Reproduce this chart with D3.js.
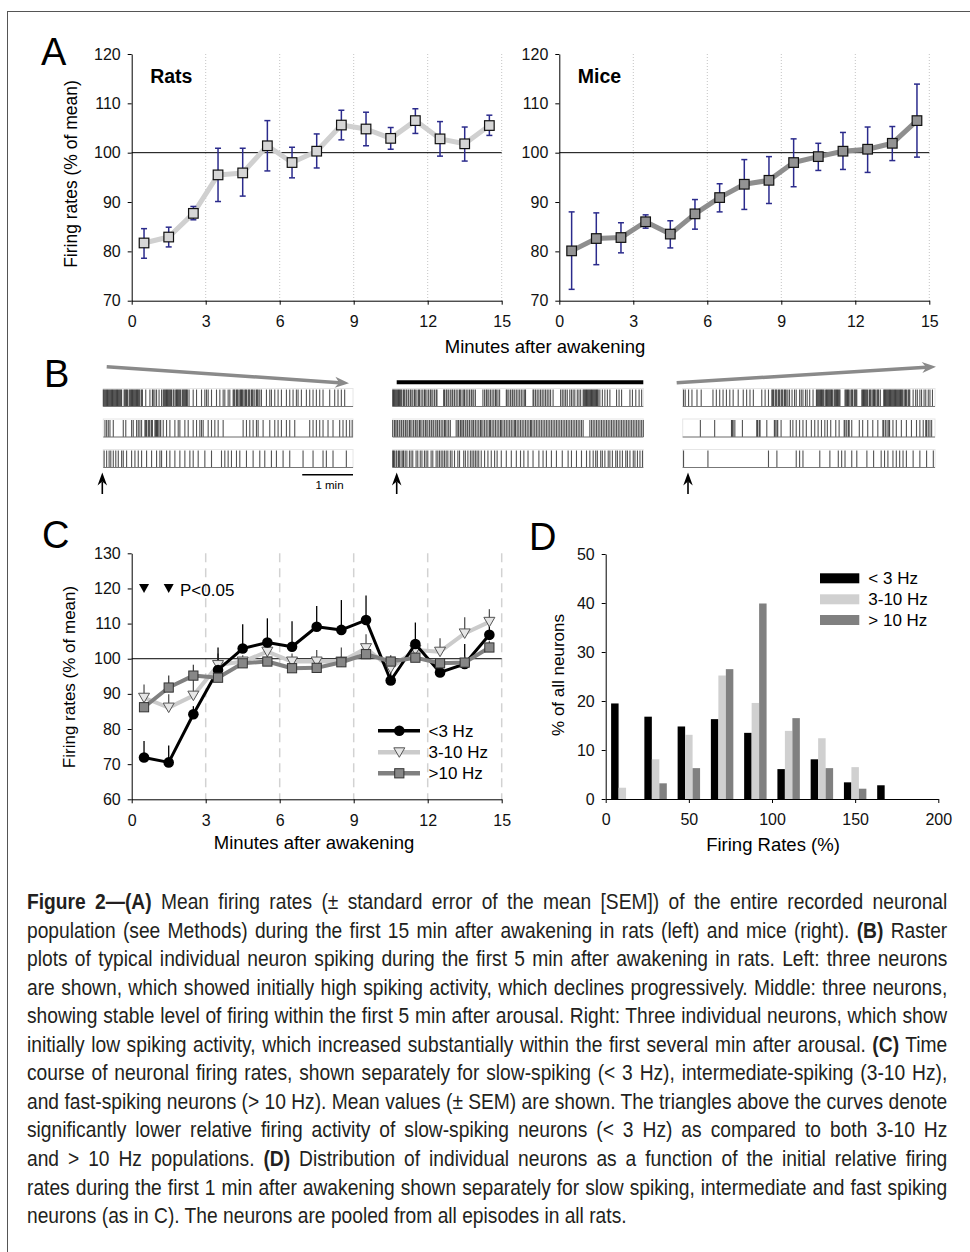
<!DOCTYPE html>
<html>
<head>
<meta charset="utf-8">
<script src="https://cdn.jsdelivr.net/npm/d3@7"></script>
<style>
  body { margin: 0; background: #fff; }
  svg { display: block; }
</style>
</head>
<body>
<svg id="fig" width="970" height="1252"></svg>
<script>
const FONT = '"Liberation Sans", Arial, Helvetica, sans-serif';

// ---------- data ----------
const minutes = [0.5, 1.5, 2.5, 3.5, 4.5, 5.5, 6.5, 7.5, 8.5, 9.5, 10.5, 11.5, 12.5, 13.5, 14.5];
const xTicks = [0, 3, 6, 9, 12, 15];

// Panel A - rats
const ratsMean = [81.7, 82.9, 87.7, 95.5, 95.9, 101.4, 98.0, 100.3, 105.6, 104.8, 102.9, 106.5, 102.8, 101.8, 105.5];
const ratsLow  = [78.6, 80.9, 86.4, 90.1, 91.2, 96.3, 94.9, 96.9, 102.6, 101.4, 100.7, 103.9, 99.3, 98.3, 103.5];
const ratsHigh = [84.6, 84.9, 89.1, 100.9, 100.9, 106.5, 101.1, 103.8, 108.6, 108.2, 105.1, 108.9, 106.3, 105.2, 107.6];
// Panel A - mice
const miceMean = [80.1, 82.6, 82.8, 86.0, 83.5, 87.6, 90.9, 93.6, 94.4, 98.0, 99.2, 100.3, 100.7, 101.9, 106.5];
const miceLow  = [72.3, 77.3, 79.7, 84.7, 80.7, 84.5, 88.0, 88.5, 89.7, 93.1, 96.4, 96.6, 96.0, 98.4, 99.1];
const miceHigh = [88.0, 87.8, 85.8, 87.4, 86.2, 90.5, 93.7, 98.6, 99.2, 102.8, 101.9, 104.1, 105.2, 105.3, 113.9];
const yTicksA = [70, 80, 90, 100, 110, 120];

// Panel B - spike times (s, within first 5 min)
const spikesL1 = [0,1,2,3,4,5,6,7,8,9,10,11,12,13,14,15,16,17,18,19,20,21,22,25,26,27,28,29,31,32,33,34,35,36,37,38,39,40,41,42,43,44,
  46,47,51,56,59,60,62,64,67,70,72,73,74,75,76,77,78,79,80,81,82,84,85,87,88,89,90,91,92,93,95,96,97,98,99,100,101,103,
  108,112,118,122,124,126,130,136,140,144,146,150,152,156,157,158,160,161,162,164,165,166,167,168,170,171,172,174,175,176,
  178,179,180,182,184,185,186,188,190,196,200,202,206,210,214,220,224,228,232,234,238,244,248,252,256,260,264,272,278,282,286,290];
const spikesL2 = [2,4,6,8,12,24,27,34,36,40,42,44,46,50,51,52,54,55,56,58,59,62,63,64,65,66,68,69,72,76,80,86,90,92,98,102,
  108,112,116,118,120,126,130,134,138,144,168,172,176,180,184,186,192,200,206,210,214,220,224,230,248,252,256,260,264,270,
  276,284,288,292,296,299];
const spikesL3 = [1,4,7,9,12,15,18,22,24,28,34,38,42,46,52,58,64,68,70,76,80,86,92,98,104,108,114,122,130,142,146,150,154,
  160,164,172,180,188,194,202,208,216,224,240,252,264,268,276,292];
const spikesM1 = [0,1,2,3,4,5,6,7,8,9,10,11,13,14,16,17,19,21,22,24,26,27,29,31,32,34,36,38,39,41,43,45,46,48,50,52,53,
  61,62,64,65,67,69,71,72,74,76,78,80,81,83,85,86,88,90,92,94,95,97,99,108,110,112,113,115,117,119,121,123,124,126,128,
  136,137,139,141,143,144,146,148,150,152,154,156,158,159,168,169,171,173,175,177,179,181,183,185,187,189,192,201,203,
  205,207,209,212,214,216,218,221,223,225,228,229,230,231,232,233,234,235,236,237,238,239,240,241,242,243,244,245,246,
  248,251,254,257,260,268,271,274,284,287,291,295,298];
const spikesM2 = [0,2,3,5,6,8,10,11,13,15,16,18,20,21,23,25,27,28,30,32,33,35,37,39,40,42,44,46,47,49,51,53,54,56,58,60,
  62,63,65,67,69,76,78,79,81,82,84,85,87,89,90,92,94,96,97,99,101,103,105,106,108,110,112,114,116,117,119,121,123,125,
  127,129,130,132,134,136,138,140,142,144,146,147,149,151,153,155,157,159,161,163,165,166,168,170,172,174,176,178,180,
  182,184,186,188,190,192,194,196,198,200,202,204,206,208,210,212,214,216,218,220,222,224,226,228,236,238,240,242,244,
  246,248,250,252,254,256,258,260,262,264,266,268,270,272,274,276,278,280,282,284,286,288,290,292,294,296,298,300];
const spikesM3 = [0,1,2,4,5,7,8,10,12,13,15,17,20,22,24,28,30,33,35,38,40,42,46,48,52,54,56,58,60,62,64,66,69,71,74,78,
  80,85,87,90,93,95,97,99,101,103,106,110,114,118,122,125,130,136,142,148,153,157,162,168,175,180,184,190,196,203,210,
  214,220,226,232,236,240,243,245,249,251,254,258,260,263,267,269,272,275,279,281,284,288,290,293,296,299];
const spikesR1 = [1,3,7,11,17,22,36,40,44,48,52,56,60,66,72,76,80,84,94,98,102,106,107,108,110,111,112,114,115,117,118,
  119,121,122,123,125,127,130,133,135,139,141,143,146,148,151,155,159,160,161,162,163,164,165,166,167,168,170,171,172,
  173,174,175,176,177,178,180,181,182,183,184,185,186,187,193,194,195,196,197,198,200,201,202,204,205,206,207,213,214,
  215,216,217,218,219,220,222,223,224,226,227,228,229,231,232,233,235,239,240,241,242,243,244,245,246,247,248,249,250,
  251,252,253,254,255,256,257,258,259,260,261,262,264,265,266,268,269,270,274,277,279,282,284,287,289,292,294,297];
const spikesR2 = [21,38,58,59,60,62,71,88,89,91,92,100,109,110,112,113,117,128,131,135,139,143,147,153,157,161,165,169,
  172,176,182,186,192,193,195,197,198,201,210,214,220,226,232,238,239,241,243,245,246,250,254,260,266,272,278,282,286,
  289,290,292,294,296];
const spikesR3 = [1,30,102,112,135,139,143,163,175,185,189,193,201,207,219,227,236,240,244,250,254,258,262,266,274,282,290,298];

// Panel C
const slowMean = [71.9, 70.5, 84.2, 96.8, 102.9, 104.6, 103.4, 109.1, 108.2, 111.0, 93.8, 104.2, 96.1, 98.5, 106.8];
const slowHigh = [76.6, 75.3, 86.5, 103.2, 109.8, 111.5, 110.7, 115.0, 116.7, 118.0, 96.5, 110.3, 98.5, 104.2, 110.0];
const midMean  = [88.9, 86.1, 89.5, 98.2, 99.2, 102.0, 99.2, 99.2, 99.2, 103.0, 97.3, 102.5, 102.0, 107.2, 110.5];
const midHigh  = [92.7, 89.9, 95.6, 101.5, 101.0, 104.0, 101.5, 102.5, 103.2, 107.0, 100.5, 104.0, 105.8, 111.8, 114.1];
const fastMean = [86.2, 91.8, 95.2, 94.6, 98.7, 99.2, 97.3, 97.4, 99.0, 101.3, 99.2, 100.3, 98.7, 98.9, 103.2];
const fastHigh = [88.5, 95.2, 98.3, 97.0, 100.3, 101.0, 99.2, 99.0, 100.8, 103.2, 101.0, 101.8, 100.2, 100.6, 105.0];
const yTicksC = [60, 70, 80, 90, 100, 110, 120, 130];
const sigMinutes = [0.5, 1.5];
const sigLevel = 120;
const legendC = ['<3 Hz', '3-10 Hz', '>10 Hz'];

// Panel D
const binCenters = [10, 30, 50, 70, 90, 110, 130, 150, 170];
const slowPct = [19.5, 16.8, 14.8, 16.3, 13.5, 6.1, 8.1, 3.4, 2.8];
const midPct  = [2.3, 8.1, 13.1, 25.2, 19.6, 13.9, 12.4, 6.5, 0];
const fastPct = [0, 3.2, 6.3, 26.5, 39.9, 16.5, 6.3, 2.1, 0];
const yTicksD = [0, 10, 20, 30, 40, 50];
const xTicksD = [0, 50, 100, 150, 200];
const legendD = ['< 3 Hz', '3-10 Hz', '> 10 Hz'];

const captionLines = [
  [['Figure 2—(A)', true], [' Mean firing rates (± standard error of the mean [SEM]) of the entire recorded neuronal']],
  [['population (see Methods) during the first 15 min after awakening in rats (left) and mice (right). '], ['(B)', true], [' Raster']],
  [['plots of typical individual neuron spiking during the first 5 min after awakening in rats. Left: three neurons']],
  [['are shown, which showed initially high spiking activity, which declines progressively. Middle: three neurons,']],
  [['showing stable level of firing within the first 5 min after arousal. Right: Three individual neurons, which show']],
  [['initially low spiking activity, which increased substantially within the first several min after arousal. '], ['(C)', true], [' Time']],
  [['course of neuronal firing rates, shown separately for slow-spiking (< 3 Hz), intermediate-spiking (3-10 Hz),']],
  [['and fast-spiking neurons (> 10 Hz). Mean values (± SEM) are shown. The triangles above the curves denote']],
  [['significantly lower relative firing activity of slow-spiking neurons (< 3 Hz) as compared to both 3-10 Hz']],
  [['and > 10 Hz populations. '], ['(D)', true], [' Distribution of individual neurons as a function of the initial relative firing']],
  [['rates during the first 1 min after awakening shown separately for slow spiking, intermediate and fast spiking']],
  [['neurons (as in C). The neurons are pooled from all episodes in all rats.']]
];

// ---------- drawing ----------
const svg = d3.select('#fig');
svg.append('rect').attr('width', 970).attr('height', 1252).attr('fill', '#fff');
// outer frame
svg.append('rect').attr('x', 7.5).attr('y', 11.5).attr('width', 990).attr('height', 1270)
  .attr('fill', 'none').attr('stroke', '#555').attr('stroke-width', 1);

function styleAxis(g, size) {
  g.attr('font-family', FONT).attr('font-size', size);
  g.selectAll('text').attr('fill', '#111');
  g.selectAll('line,path').attr('stroke', '#000');
}

function panelLabel(txt, x, y) {
  svg.append('text').attr('x', x).attr('y', y).text(txt)
    .attr('font-family', FONT).attr('font-size', 38).attr('fill', '#000');
}

// Panel A
function panelA(x0, mean, low, high, lineColor, fill, title) {
  const x = d3.scaleLinear().domain([0, 15]).range([x0, x0 + 370]);
  const y = d3.scaleLinear().domain([70, 120]).range([300.7, 54]);
  const g = svg.append('g');

  g.selectAll('.grid').data(xTicks.slice(1)).join('line')
    .attr('x1', d => x(d)).attr('x2', d => x(d)).attr('y1', y(120)).attr('y2', y(70))
    .attr('stroke', '#c4c4c4').attr('stroke-dasharray', '1,2');

  g.append('line').attr('x1', x(0)).attr('x2', x(15)).attr('y1', y(100)).attr('y2', y(100))
    .attr('stroke', '#000').attr('stroke-width', 1);

  const ax = g.append('g').attr('transform', `translate(0,${y(70)})`)
    .call(d3.axisBottom(x).tickValues(xTicks).tickSize(4).tickSizeOuter(0).tickPadding(11));
  styleAxis(ax, 16);
  const ay = g.append('g').attr('transform', `translate(${x0},0)`)
    .call(d3.axisLeft(y).tickValues(yTicksA).tickSize(4).tickSizeOuter(0).tickPadding(7));
  styleAxis(ay, 16);

  g.append('path').datum(mean)
    .attr('d', d3.line().x((d, i) => x(minutes[i])).y(d => y(d)))
    .attr('fill', 'none').attr('stroke', lineColor).attr('stroke-width', 5).attr('stroke-linejoin', 'round');

  const eb = g.append('g').attr('stroke', '#2b2b8c').attr('stroke-width', 1.5);
  minutes.forEach((m, i) => {
    eb.append('line').attr('x1', x(m)).attr('x2', x(m)).attr('y1', y(low[i])).attr('y2', y(high[i]));
    eb.append('line').attr('x1', x(m) - 3).attr('x2', x(m) + 3).attr('y1', y(low[i])).attr('y2', y(low[i]));
    eb.append('line').attr('x1', x(m) - 3).attr('x2', x(m) + 3).attr('y1', y(high[i])).attr('y2', y(high[i]));
  });

  g.selectAll('.mk').data(mean).join('rect')
    .attr('x', (d, i) => x(minutes[i]) - 4.8).attr('y', d => y(d) - 4.8)
    .attr('width', 9.6).attr('height', 9.6)
    .attr('fill', fill).attr('stroke', '#111').attr('stroke-width', 1.2);

  g.append('text').attr('x', x0 + 18.5).attr('y', 82.5).text(title)
    .attr('font-family', FONT).attr('font-weight', 'bold').attr('font-size', 19.5);
}

panelLabel('A', 41, 65);
panelA(131.7, ratsMean, ratsLow, ratsHigh, '#d0d0d0', '#d6d6d6', 'Rats');
panelA(559.3, miceMean, miceLow, miceHigh, '#8e8e8e', '#939393', 'Mice');
svg.append('text').attr('x', 545).attr('y', 353).attr('text-anchor', 'middle')
  .attr('font-family', FONT).attr('font-size', 18.5).text('Minutes after awakening');
svg.append('text').attr('transform', 'translate(77,174) rotate(-90)').attr('text-anchor', 'middle')
  .attr('font-family', FONT).attr('font-size', 17.5).text('Firing rates (% of mean)');

// Panel B
panelLabel('B', 44, 387);
const rowTops = [388.5, 419, 449.5];
const rowH = 18;

function rasterBlock(x0, x1, rows) {
  const t = d3.scaleLinear().domain([0, 300]).range([x0, x1]);
  const g = svg.append('g');
  rows.forEach((spikes, r) => {
    const top = rowTops[r];
    g.append('rect').attr('x', x0).attr('y', top).attr('width', x1 - x0).attr('height', rowH)
      .attr('fill', 'none').attr('stroke', '#e6e6e6').attr('stroke-width', 1);
    g.append('g').selectAll('line').data(spikes).join('line')
      .attr('x1', d => t(d)).attr('x2', d => t(d))
      .attr('y1', top + 1).attr('y2', top + rowH)
      .attr('stroke', '#111').attr('stroke-opacity', 0.72).attr('stroke-width', 1.1);
    g.append('line').attr('x1', x0).attr('x2', x1).attr('y1', top + rowH).attr('y2', top + rowH)
      .attr('stroke', '#777').attr('stroke-width', 1);
  });
  return t;
}

function arrow(x1, y1, x2, y2, color, w, hl, hw) {
  const dx = x2 - x1, dy = y2 - y1, L = Math.hypot(dx, dy);
  const ux = dx / L, uy = dy / L;
  const bx = x2 - ux * hl, by = y2 - uy * hl;
  svg.append('line').attr('x1', x1).attr('y1', y1)
    .attr('x2', bx + ux * hl * 0.3).attr('y2', by + uy * hl * 0.3)
    .attr('stroke', color).attr('stroke-width', w);
  svg.append('path')
    .attr('d', `M${x2},${y2} L${bx - uy * hw / 2},${by + ux * hw / 2} L${bx + ux * hl * 0.3},${by + uy * hl * 0.3} L${bx + uy * hw / 2},${by - ux * hw / 2} Z`)
    .attr('fill', color);
}

rasterBlock(103.3, 353, [spikesL1, spikesL2, spikesL3]);
rasterBlock(392.7, 643.3, [spikesM1, spikesM2, spikesM3]);
rasterBlock(682.7, 935, [spikesR1, spikesR2, spikesR3]);

arrow(106.7, 366.7, 349, 383.3, '#8a8a8a', 3.5, 14, 11);
arrow(676.7, 382.7, 936, 366.7, '#8a8a8a', 3.5, 14, 11);
svg.append('line').attr('x1', 396.7).attr('x2', 643.3).attr('y1', 382.3).attr('y2', 382.3)
  .attr('stroke', '#000').attr('stroke-width', 4);

[102.3, 396.7, 688].forEach(ax => arrow(ax, 494, ax, 472.5, '#000', 1.6, 13, 9.5));

// scale bar: 1 min
const tScale = d3.scaleLinear().domain([0, 300]).range([103.3, 353]);
svg.append('line').attr('x1', tScale(239)).attr('x2', tScale(300)).attr('y1', 474.7).attr('y2', 474.7)
  .attr('stroke', '#000').attr('stroke-width', 1.5);
svg.append('text').attr('x', 329.5).attr('y', 489).attr('text-anchor', 'middle')
  .attr('font-family', FONT).attr('font-size', 11.5).text('1 min');

// Panel C
panelLabel('C', 42, 548);
{
  const x = d3.scaleLinear().domain([0, 15]).range([131.7, 501.7]);
  const y = d3.scaleLinear().domain([60, 130]).range([799.3, 553.3]);
  const g = svg.append('g');

  g.selectAll('.grid').data(xTicks.slice(1)).join('line')
    .attr('x1', d => x(d)).attr('x2', d => x(d)).attr('y1', y(130)).attr('y2', y(60))
    .attr('stroke', '#d2d2d2').attr('stroke-width', 1.5).attr('stroke-dasharray', '9,6');
  g.append('line').attr('x1', x(0)).attr('x2', x(15)).attr('y1', y(100)).attr('y2', y(100))
    .attr('stroke', '#000').attr('stroke-width', 1);

  const ax = g.append('g').attr('transform', `translate(0,${y(60)})`)
    .call(d3.axisBottom(x).tickValues(xTicks).tickSize(4).tickSizeOuter(0).tickPadding(11));
  styleAxis(ax, 16);
  const ay = g.append('g').attr('transform', `translate(${x(0)},0)`)
    .call(d3.axisLeft(y).tickValues(yTicksC).tickSize(4).tickSizeOuter(0).tickPadding(7));
  styleAxis(ay, 16);

  const series = [
    { mean: midMean, high: midHigh, line: '#cbcbcb', bar: '#555', shape: 'tri' },
    { mean: slowMean, high: slowHigh, line: '#000', bar: '#000', shape: 'circle' },
    { mean: fastMean, high: fastHigh, line: '#808080', bar: '#444', shape: 'square' }
  ];
  series.forEach(s => {
    g.append('g').selectAll('line').data(s.high).join('line')
      .attr('x1', (d, i) => x(minutes[i])).attr('x2', (d, i) => x(minutes[i]))
      .attr('y1', (d, i) => y(s.mean[i])).attr('y2', d => y(d))
      .attr('stroke', s.bar).attr('stroke-width', 1.3);
  });

  function marker(sel, shape, cx, cy) {
    if (shape === 'circle') {
      sel.append('circle').attr('cx', cx).attr('cy', cy).attr('r', 5.3).attr('fill', '#000');
    } else if (shape === 'tri') {
      sel.append('path').attr('d', `M${cx - 5.5},${cy - 4.5} L${cx + 5.5},${cy - 4.5} L${cx},${cy + 5} Z`)
        .attr('fill', '#e6e6e6').attr('stroke', '#555').attr('stroke-width', 1);
    } else {
      sel.append('rect').attr('x', cx - 4.6).attr('y', cy - 4.6).attr('width', 9.2).attr('height', 9.2)
        .attr('fill', '#878787').attr('stroke', '#333').attr('stroke-width', 1);
    }
  }

  series.forEach(s => {
    g.append('path').datum(s.mean)
      .attr('d', d3.line().x((d, i) => x(minutes[i])).y(d => y(d)))
      .attr('fill', 'none').attr('stroke', s.line)
      .attr('stroke-width', s.shape === 'circle' ? 3 : 4).attr('stroke-linejoin', 'round');
    const mg = g.append('g');
    s.mean.forEach((d, i) => marker(mg, s.shape, x(minutes[i]), y(d)));
  });

  // significance marks
  sigMinutes.forEach(m => {
    const cx = x(m), cy = y(sigLevel);
    g.append('path').attr('d', `M${cx - 5},${cy - 4.5} L${cx + 5},${cy - 4.5} L${cx},${cy + 4.5} Z`).attr('fill', '#000');
  });
  g.append('text').attr('x', 180).attr('y', 596).attr('font-family', FONT).attr('font-size', 17).text('P<0.05');

  // legend
  const legRows = [730.7, 752.3, 773.3];
  const legOrder = [series[1], series[0], series[2]];
  legOrder.forEach((s, i) => {
    g.append('line').attr('x1', 378).attr('x2', 420).attr('y1', legRows[i]).attr('y2', legRows[i])
      .attr('stroke', s.line).attr('stroke-width', s.shape === 'circle' ? 3.5 : 4.5);
    marker(g, s.shape, 399.3, legRows[i]);
    g.append('text').attr('x', 428.5).attr('y', legRows[i] + 6).attr('font-family', FONT)
      .attr('font-size', 17).text(legendC[i]);
  });

  svg.append('text').attr('x', 314).attr('y', 849).attr('text-anchor', 'middle')
    .attr('font-family', FONT).attr('font-size', 18.5).text('Minutes after awakening');
  svg.append('text').attr('transform', 'translate(74.5,677) rotate(-90)').attr('text-anchor', 'middle')
    .attr('font-family', FONT).attr('font-size', 17).text('Firing rates (% of mean)');
}

// Panel D
panelLabel('D', 529, 550);
{
  const x = d3.scaleLinear().domain([0, 200]).range([605.7, 938.3]);
  const y = d3.scaleLinear().domain([0, 50]).range([799, 554]);
  const g = svg.append('g');
  const barW = x(4.5) - x(0);
  const groups = [
    { vals: slowPct, off: -6.75, color: '#000' },
    { vals: midPct, off: -2.25, color: '#d0d0d0' },
    { vals: fastPct, off: 2.25, color: '#808080' }
  ];
  groups.forEach(gr => {
    g.append('g').selectAll('rect').data(gr.vals).join('rect')
      .attr('x', (d, i) => x(binCenters[i] + gr.off)).attr('width', barW)
      .attr('y', d => y(d)).attr('height', d => y(0) - y(d))
      .attr('fill', gr.color);
  });

  const ax = g.append('g').attr('transform', `translate(0,${y(0)})`)
    .call(d3.axisBottom(x).tickValues(xTicksD).tickSize(4).tickSizeOuter(0).tickPadding(11));
  styleAxis(ax, 16);
  const ay = g.append('g').attr('transform', `translate(${x(0)},0)`)
    .call(d3.axisLeft(y).tickValues(yTicksD).tickSize(4).tickSizeOuter(0).tickPadding(7));
  styleAxis(ay, 16);

  const legRows = [578.3, 599.3, 620];
  groups.forEach((gr, i) => {
    g.append('rect').attr('x', 820).attr('y', legRows[i] - 5).attr('width', 39.3).attr('height', 10).attr('fill', gr.color);
    g.append('text').attr('x', 868.3).attr('y', legRows[i] + 6).attr('font-family', FONT)
      .attr('font-size', 17).text(legendD[i]);
  });

  svg.append('text').attr('x', 773).attr('y', 851).attr('text-anchor', 'middle')
    .attr('font-family', FONT).attr('font-size', 18.5).text('Firing Rates (%)');
  svg.append('text').attr('transform', 'translate(564,675) rotate(-90)').attr('text-anchor', 'middle')
    .attr('font-family', FONT).attr('font-size', 17).text('% of all neurons');
}

// Caption: one horizontal squeeze for all lines (set by the tightest line), justified by word spacing
const capG = svg.append('g').attr('font-family', FONT).attr('font-size', 21.5).attr('fill', '#231f20');
const capLeft = 27, capWidth = 921;
const capTexts = captionLines.map(segs => {
  const t = capG.append('text').attr('x', 0).attr('y', 0);
  segs.forEach(s => t.append('tspan').attr('font-weight', s[1] ? 'bold' : null).text(s[0]));
  return t;
});
const natural = capTexts.map(t => t.node().getComputedTextLength());
const sx = Math.min(...natural.slice(0, -1).map(w => capWidth / w));
capTexts.forEach((t, i) => {
  if (i < capTexts.length - 1) {
    const spaces = (captionLines[i].map(s => s[0]).join('').match(/ /g) || []).length;
    t.style('word-spacing', ((capWidth / sx - natural[i]) / spaces) + 'px');
  }
  t.attr('transform', `translate(${capLeft},${909 + i * 28.55}) scale(${sx},1)`);
});
</script>
</body>
</html>
